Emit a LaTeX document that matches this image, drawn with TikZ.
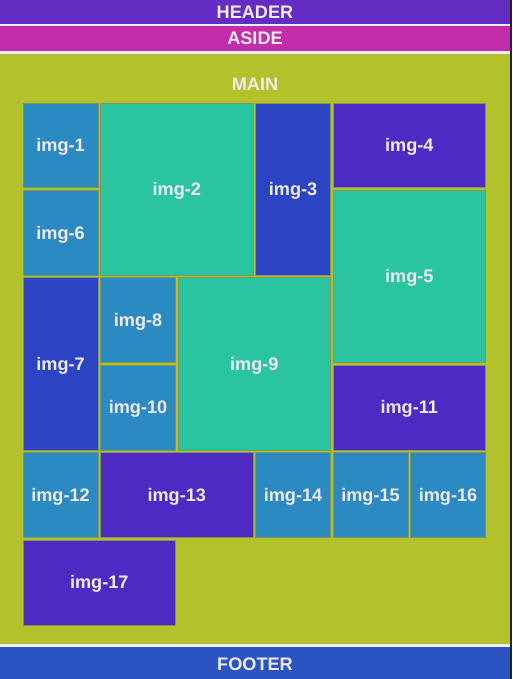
\documentclass[tikz,border=0pt]{standalone}
\usepackage{fontspec}
\setmainfont{Liberation Sans}
\usepackage{xcolor}
\usepackage{tikz}
\usetikzlibrary{positioning}
\definecolor{headc}{RGB}{101,44,196}
\definecolor{asidec}{RGB}{194,45,170}
\definecolor{mainc}{RGB}{179,193,42}
\definecolor{footc}{RGB}{43,83,193}
\definecolor{skyc}{RGB}{43,138,194}
\definecolor{tealc}{RGB}{43,196,161}
\definecolor{navyc}{RGB}{42,68,196}
\definecolor{violc}{RGB}{77,42,196}
\definecolor{edgec}{RGB}{128,150,96}
\definecolor{labelc}{RGB}{242,234,240}
\definecolor{gapc}{RGB}{244,238,238}

\begin{document}
\begin{tikzpicture}[x=0.75pt,y=-0.75pt,
    band/.style={rectangle,inner sep=0pt,minimum width=382.5pt,font=\fontsize{13.6}{16}\bfseries,
                 text=labelc,text height=0.94em,text depth=0pt},
    cell/.style={rectangle,draw=edgec,line width=0.6pt,inner sep=0pt,font=\fontsize{13.6}{16}\bfseries,
                 text=labelc,text height=0.94em,text depth=0pt},
    w1/.style={minimum width=56.3pt},
    w2/.style={minimum width=114.4pt},
    h1/.style={minimum height=63.6pt},
    h2/.style={minimum height=129.2pt}
]
\useasboundingbox[fill=gapc] (0,0) rectangle (512,679);
\fill[black!86] (510,0) rectangle (512,679);

\node[band,fill=headc,minimum height=18pt]    (header) at (255,12)     {HEADER};
\node[band,fill=asidec,minimum height=18.5pt] (aside)  at (255,38.65)  {ASIDE};
\node[band,fill=mainc,minimum height=442.7pt] (main)   at (255,348.85) {};
\node[band,fill=footc,minimum height=24.2pt]  (footer) at (255,662.85) {};
\node[band,minimum width=0pt] (footer_label) at (255,664.5) {FOOTER};
\node[band,minimum width=0pt] (main_label)   at (255,84)    {MAIN};

\node[cell,w1,h1,fill=skyc]  (img1)  at (60.55,145.4)  {img-1};
\node[cell,w2,h2,fill=tealc] (img2)  at (176.8,189.1)  {img-2};
\node[cell,w1,h2,fill=navyc] (img3)  at (293.05,189.1) {img-3};
\node[cell,w2,h1,fill=violc] (img4)  at (409.3,145.4)  {img-4};
\node[cell,w2,h2,fill=tealc] (img5)  at (409.3,276.53) {img-5};
\node[cell,w1,h1,fill=skyc]  (img6)  at (60.55,232.83) {img-6};
\node[cell,w1,h2,fill=navyc] (img7)  at (60.55,363.96) {img-7};
\node[cell,w1,h1,fill=skyc]  (img8)  at (138.05,320.26) {img-8};
\node[cell,w2,h2,fill=tealc] (img9)  at (254.3,363.96) {img-9};
\node[cell,w1,h1,fill=skyc]  (img10) at (138.05,407.69) {img-10};
\node[cell,w2,h1,fill=violc] (img11) at (409.3,407.69) {img-11};
\node[cell,w1,h1,fill=skyc]  (img12) at (60.55,495.12) {img-12};
\node[cell,w2,h1,fill=violc] (img13) at (176.8,495.12) {img-13};
\node[cell,w1,h1,fill=skyc]  (img14) at (293.05,495.12) {img-14};
\node[cell,w1,h1,fill=skyc]  (img15) at (370.55,495.12) {img-15};
\node[cell,w1,h1,fill=skyc]  (img16) at (448.05,495.12) {img-16};
\node[cell,w2,h1,fill=violc] (img17) at (99.3,582.55)  {img-17};
\end{tikzpicture}
\end{document}
